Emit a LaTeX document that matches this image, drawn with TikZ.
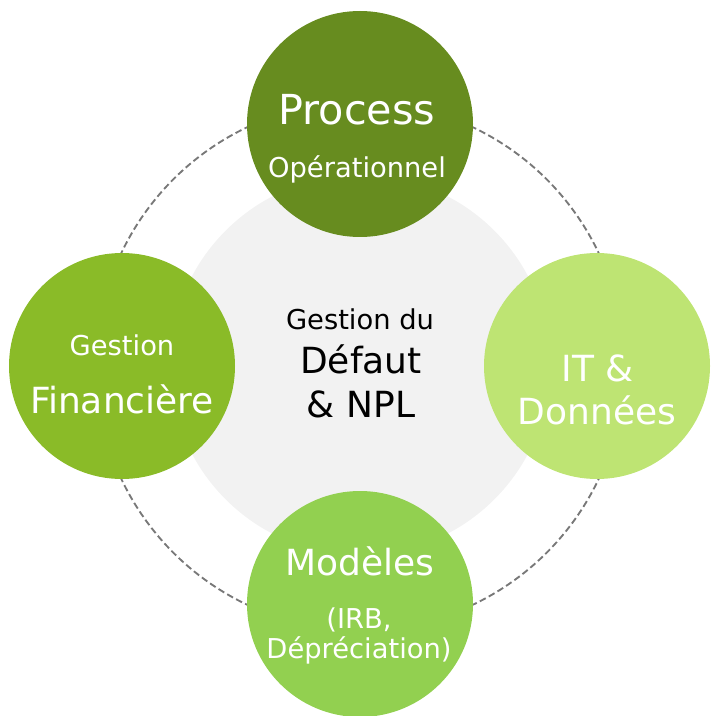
\documentclass[tikz,border=0pt]{standalone}
\usepackage{fontspec}
\setmainfont{DejaVu Sans}

\definecolor{procgreen}{RGB}{103,140,31}
\definecolor{fingreen}{RGB}{138,187,40}
\definecolor{itgreen}{RGB}{190,228,115}
\definecolor{modgreen}{RGB}{146,208,80}
\definecolor{coregray}{RGB}{242,242,242}
\definecolor{ringgray}{RGB}{120,120,120}

\begin{document}
\begin{tikzpicture}[x=0.75pt,y=0.75pt,yscale=-1,xscale=1,
    ring/.style={draw=ringgray, line width=1.4pt, dash pattern=on 5pt off 2.6pt},
    lbl/.style={anchor=base, inner sep=0.75pt, text=white},
    huge/.style={font=\fontsize{31}{37}\selectfont},
    big/.style={font=\fontsize{27}{32}\selectfont},
    small/.style={font=\fontsize{20.5}{25}\selectfont}]
        \useasboundingbox (0,0) rectangle (710,716);
        %Shape: Ellipse [core]
        \fill [coregray] (360,365) circle (190);
        %Shape: Ellipse [dashed ring]
        \draw [ring] (360,366) circle (264);
        %Shape: Ellipse [four bubbles]
        \fill [procgreen] (360,124) circle (113);
        \fill [fingreen] (122,366) circle (113);
        \fill [itgreen] (597,366) circle (113);
        \fill [modgreen] (360,604) circle (113);

        % Text Node
        \draw (357,125) node [lbl, huge] (procA) {Process};
        % Text Node
        \draw (357,178) node [lbl, small] (procB) {Opérationnel};
        % Text Node
        \draw (360,329) node [lbl, small, text=black] (coreA) {Gestion du};
        % Text Node
        \draw (361,373) node [lbl, big, text=black] (coreB) {Défaut};
        % Text Node
        \draw (361,417) node [lbl, big, text=black] (coreC) {\& NPL};
        % Text Node
        \draw (122,355) node [lbl, small] (finA) {Gestion};
        % Text Node
        \draw (122,413) node [lbl, big] (finB) {Financière};
        % Text Node
        \draw (598,381) node [lbl, big] (itA) {IT \&};
        % Text Node
        \draw (597,424) node [lbl, big] (itB) {Données};
        % Text Node
        \draw (360,575) node [lbl, big] (modA) {Modèles};
        % Text Node
        \draw (359,628) node [lbl, small] (modB) {(IRB,};
        % Text Node
        \draw (359,658) node [lbl, small] (modC) {Dépréciation)};
\end{tikzpicture}
\end{document}
